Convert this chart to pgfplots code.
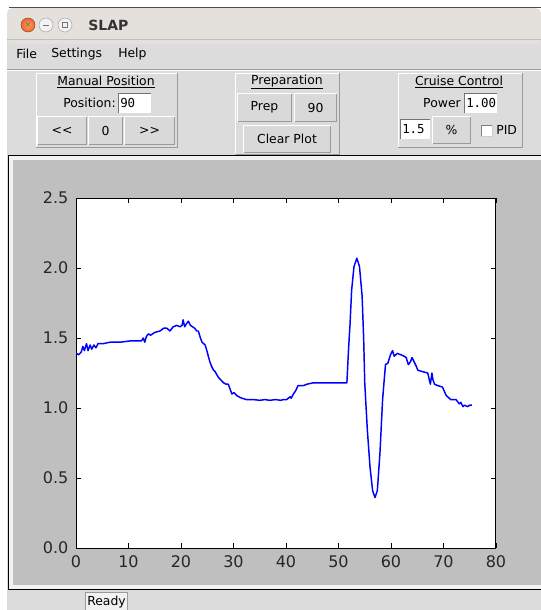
\documentclass[border=0pt]{standalone}
\usepackage{pgfplots}
\pgfplotsset{compat=1.18}
\usepackage{fontspec}
\setmainfont{DejaVu Sans}
\newfontfamily\mono{DejaVu Sans Mono}
\definecolor{winbg}{HTML}{DCDCDC}
\definecolor{canvas}{HTML}{BFBFBF}
\definecolor{titlebg}{HTML}{E4E1DC}
\definecolor{btnbg}{HTML}{D9D9D9}
\definecolor{shadow}{HTML}{9A9A9A}
\definecolor{closeor}{HTML}{E9623A}
\newcommand\gui{\fontsize{9.3}{11}\selectfont}
\begin{document}
\begin{tikzpicture}
\begin{scope}[x=0.75pt,y=-0.75pt]
\useasboundingbox (0,0) rectangle (541,610);
\fill[white] (0,0) rectangle (541,610);
% window background
\fill[winbg] (7,38) rectangle (541,610);
% title bar
\fill[titlebg,rounded corners=4pt] (7,8) rectangle (541,44);
\fill[titlebg] (7,30) rectangle (541,39);
\draw[black!70,line width=0.75pt] (9,8) -- (541,8);
\draw[black!25] (7,39) -- (541,39);
\shade[inner color=orange!70!white, outer color=closeor] (28,25) circle (7);
\draw[closeor!70!black] (28,25) circle (7);
\node[font=\fontsize{6}{6}\selectfont,text=black!60] at (28,25) {×};
\fill[white!90!gray,draw=gray!70] (46,25) circle (7);
\draw[gray!90!black] (43,25) -- (49,25);
\fill[white!90!gray,draw=gray!70] (65,25) circle (7);
\draw[gray!90!black] (62.5,22.5) rectangle (67.5,27.5);
\node[anchor=west,font=\fontsize{10.5}{12}\selectfont\bfseries,text=black!80,inner sep=0pt] at (88,25) {SLAP};
% menu
\node[anchor=west,font=\gui,inner sep=0pt] at (16,54) {File};
\node[anchor=west,font=\gui,inner sep=0pt] at (51,54) {Settings};
\node[anchor=west,font=\gui,inner sep=0pt] at (118,54) {Help};
\draw[shadow] (7,69.5) -- (541,69.5);
\draw[white] (7,70.5) -- (541,70.5);
% panels
\newcommand\panel[4]{%
 \draw[white] (#1,#4) -- (#1,#2) -- (#3,#2);
 \draw[shadow] (#1,#4) -- (#3,#4) -- (#3,#2);}
\newcommand\button[5]{%
 \fill[btnbg] (#1,#2) rectangle (#3,#4);
 \draw[white] (#1+0.5,#4-0.5) -- (#1+0.5,#2+0.5) -- (#3-0.5,#2+0.5);
 \draw[shadow] (#1+0.5,#4-0.5) -- (#3-0.5,#4-0.5) -- (#3-0.5,#2+0.5);
 \node[font=\gui,inner sep=0pt] at ({(#1+#3)/2},{(#2+#4)/2}) {#5};}
\newcommand\entry[5]{%
 \fill[white] (#1,#2) rectangle (#3,#4);
 \draw[black!55] (#1,#4) -- (#1,#2) -- (#3,#2);
 \node[anchor=west,font=\mono\fontsize{9.3}{11}\selectfont,inner sep=0pt] at (#1+2,{(#2+#4)/2}) {#5};}
% Manual Position
\panel{36}{73}{177}{147}
\node[font=\gui,inner sep=0pt] at (106,82) {\underline{Manual Position}};
\node[anchor=east,font=\gui,inner sep=0pt] at (116,103) {Position:};
\entry{118}{93}{151}{113}{90}
\button{37}{116}{87}{145}{{<}{<}}
\button{88}{116}{123}{145}{0}
\button{124}{116}{175}{145}{{>}{>}}
% Preparation
\panel{235}{73}{339}{154}
\node[font=\gui,inner sep=0pt] at (287,82) {\underline{Preparation}};
\button{237}{93}{292}{122}{Prep}
\button{294}{93}{337}{122}{90}
\button{243}{125}{331}{153}{Clear Plot}
% Cruise Control
\panel{398}{73}{522}{147}
\node[font=\gui,inner sep=0pt] at (459,82) {\underline{Cruise Control}};
\node[anchor=east,font=\gui,inner sep=0pt] at (461,103) {Power};
\entry{464}{93}{497}{113}{1.00}
\entry{400}{119}{430}{139}{1.5}
\button{432}{116}{471}{144}{\%}
\fill[white] (481,125) rectangle (492,136);
\draw[black!50] (481,136) -- (481,125) -- (492,125);
\draw[black!20] (481,136) -- (492,136) -- (492,125);
\node[anchor=west,font=\gui,inner sep=0pt] at (496,130) {PID};
% canvas
\fill[canvas] (8,155) rectangle (541,590);
\fill[white!80!canvas] (9,156) rectangle (541,160);
\fill[white!80!canvas] (9,156) rectangle (13,589);
\fill[white!80!canvas] (9,585) rectangle (541,589);
\draw[black,line width=0.75pt] (541,155.5) -- (8.5,155.5) -- (8.5,589.5) -- (541,589.5);
% status bar
\fill[white!60!winbg] (85,592) rectangle (127,610);
\draw[shadow] (85,610) -- (85,592) -- (127,592) -- (127,610);
\node[anchor=west,font=\gui,inner sep=0pt] at (87,602) {Ready};
\end{scope}
\begin{axis}[
  at={(57pt,-411pt)}, anchor=south west,
  width=315pt, height=262.5pt, scale only axis,
  xmin=0, xmax=80, ymin=0, ymax=2.5,
  xtick={0,10,...,80}, ytick={0,0.5,1.0,1.5,2.0,2.5},
  tick align=inside, tick pos=both, major tick length=3.5pt,
  every tick/.style={black, line width=0.5pt},
  axis line style={black, line width=0.75pt},
  axis background/.style={fill=white},
  /pgf/number format/assume math mode=true,
  yticklabel style={/pgf/number format/fixed, /pgf/number format/fixed zerofill, /pgf/number format/precision=1, inner sep=0pt, xshift=-5.5pt},
  xticklabel style={inner sep=0pt, yshift=-5.5pt},
  tick label style={font=\fontsize{12}{14}\selectfont, text=black!85},
]
\addplot[blue, line width=1.1pt, line join=round] coordinates {
(0.1,1.39) (0.5,1.38) (1.0,1.40) (1.3,1.44) (1.6,1.41) (2.0,1.46) (2.3,1.41) (2.7,1.45) (3.0,1.42) (3.4,1.45) (3.8,1.43) (4.2,1.46) (5.2,1.46) (6.5,1.47) (8.4,1.47) (10.5,1.48) (12.5,1.48) (12.8,1.50) (13.1,1.47) (13.4,1.51) (13.8,1.53) (14.2,1.52) (15.0,1.54) (16.0,1.55) (16.7,1.57) (17.3,1.57) (17.9,1.55) (18.5,1.58) (19.2,1.59) (19.8,1.58) (20.2,1.59) (20.4,1.63) (20.7,1.58) (21.0,1.60) (21.4,1.62) (21.8,1.59) (22.2,1.58) (22.6,1.57) (23.0,1.55) (23.3,1.55) (23.7,1.50) (24.0,1.47) (24.6,1.45) (25.0,1.40) (25.2,1.37) (25.5,1.33) (25.8,1.30) (26.2,1.27) (26.5,1.26) (27.1,1.22) (27.6,1.20) (28.1,1.18) (28.6,1.17) (29.0,1.17) (29.4,1.13) (29.7,1.10) (30.1,1.11) (30.6,1.09) (31.0,1.08) (31.6,1.07) (32.5,1.06) (33.8,1.06) (35.0,1.055) (36.0,1.06) (36.9,1.055) (38.0,1.06) (39.0,1.055) (39.5,1.06) (40.1,1.06) (40.8,1.08) (41.0,1.07) (41.4,1.10) (41.8,1.12) (42.3,1.16) (43.3,1.16) (44.0,1.17) (45.2,1.18) (46.0,1.18) (47.0,1.18) (48.4,1.18) (49.5,1.18) (50.5,1.18) (51.6,1.18) (51.9,1.41) (52.2,1.60) (52.5,1.84) (52.95,2.01) (53.5,2.07) (54.0,2.01) (54.5,1.80) (54.8,1.49) (55.0,1.18) (55.5,0.84) (56.0,0.58) (56.5,0.41) (56.95,0.36) (57.4,0.41) (57.9,0.68) (58.4,1.06) (58.95,1.31) (59.4,1.32) (59.9,1.38) (60.3,1.41) (60.6,1.37) (61.2,1.39) (61.9,1.38) (62.5,1.37) (62.9,1.36) (63.3,1.31) (63.7,1.33) (64.0,1.36) (64.4,1.33) (64.8,1.30) (65.1,1.27) (66.0,1.26) (67.0,1.25) (67.5,1.17) (67.8,1.25) (68.0,1.20) (68.3,1.17) (68.9,1.16) (69.8,1.15) (70.5,1.09) (71.4,1.06) (72.4,1.06) (73.0,1.03) (73.3,1.04) (73.7,1.01) (74.0,1.02) (74.6,1.01) (75.0,1.02) (75.4,1.02)
};
\end{axis}
\end{tikzpicture}
\end{document}
